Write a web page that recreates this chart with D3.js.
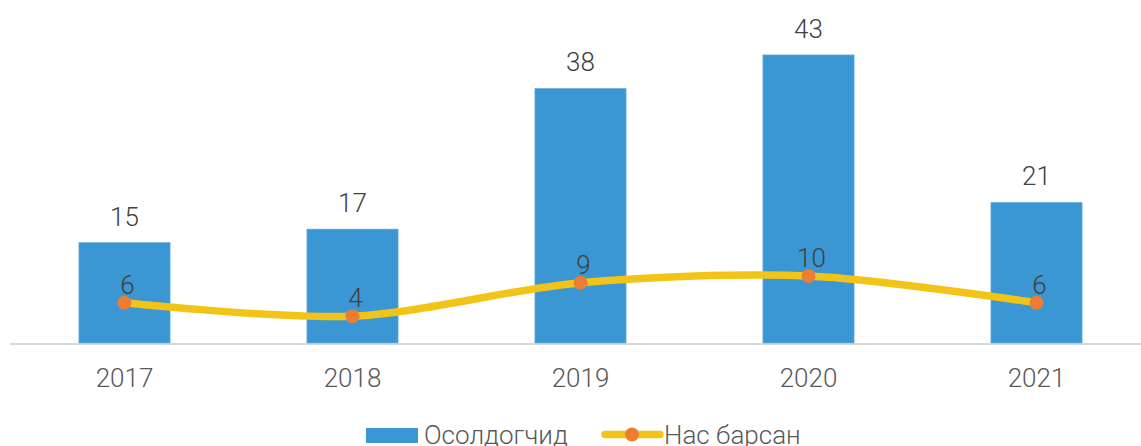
<!DOCTYPE html>
<html>
<head>
<meta charset="utf-8">
<script src="https://cdn.jsdelivr.net/npm/d3@7"></script>
<style>
  html, body { margin: 0; padding: 0; background: #fff; }
  svg { display: block; }
  text { font-family: Roboto, "Noto Sans", sans-serif; font-weight: 300; }
</style>
</head>
<body>
<svg id="chart" width="1141" height="446"></svg>
<script>
const categories = ["2017", "2018", "2019", "2020", "2021"];
const barValues = [15, 17, 38, 43, 21];      // Осолдогчид
const lineValues = [6, 4, 9, 10, 6];         // Нас барсан
const seriesNames = ["Осолдогчид", "Нас барсан"];

const W = 1141, H = 446;
const svg = d3.select("#chart");

const x = d3.scaleBand().domain(categories).range([10.5, 1150.5])
  .paddingInner(0.6).paddingOuter(0.3);
const y = d3.scaleLinear().domain([0, 50]).range([343, 8]);

const barColor = "#3b96d4";
const lineColor = "#f2c417";
const markerColor = "#ed7d31";

// baseline axis
svg.append("line")
  .attr("x1", 10).attr("x2", W)
  .attr("y1", y(0) + 1).attr("y2", y(0) + 1)
  .attr("stroke", "#d9d9d9").attr("stroke-width", 2);

// bars
svg.append("g").selectAll("rect").data(categories).join("rect")
  .attr("x", d => x(d))
  .attr("width", x.bandwidth())
  .attr("y", (d, i) => y(barValues[i]))
  .attr("height", (d, i) => y(0) - y(barValues[i]))
  .attr("fill", barColor)
  .attr("stroke", "#6fb1e0").attr("stroke-width", 0.6);

// bar labels
svg.append("g").selectAll("text").data(categories).join("text")
  .attr("x", d => x(d) + x.bandwidth() / 2)
  .attr("y", (d, i) => y(barValues[i]) - 17)
  .attr("text-anchor", "middle")
  .attr("font-size", 26)
  .attr("fill", "#404040")
  .text((d, i) => barValues[i]);

// x axis labels
svg.append("g").selectAll("text").data(categories).join("text")
  .attr("x", d => x(d) + x.bandwidth() / 2)
  .attr("y", 387)
  .attr("text-anchor", "middle")
  .attr("font-size", 26)
  .attr("fill", "#595959")
  .text(d => d);

// line
const pts = categories.map((c, i) => [x(c) + x.bandwidth() / 2, y(lineValues[i])]);
svg.append("path")
  .attr("d", d3.line().curve(d3.curveCardinal.tension(0.1))(pts))
  .attr("fill", "none")
  .attr("stroke", lineColor)
  .attr("stroke-width", 7.5)
  .attr("stroke-linecap", "round");

svg.append("g").selectAll("circle").data(pts).join("circle")
  .attr("cx", d => d[0]).attr("cy", d => d[1])
  .attr("r", 7)
  .attr("fill", markerColor);

// line labels
svg.append("g").selectAll("text").data(pts).join("text")
  .attr("x", d => d[0] + 3)
  .attr("y", d => d[1] - 9)
  .attr("text-anchor", "middle")
  .attr("font-size", 26)
  .attr("fill", "#404040")
  .text((d, i) => lineValues[i]);

// legend
const lg = svg.append("g");
lg.append("rect").attr("x", 366).attr("y", 428).attr("width", 52).attr("height", 15)
  .attr("fill", barColor);
lg.append("text").attr("x", 424).attr("y", 444).attr("font-size", 26)
  .attr("fill", "#595959").text(seriesNames[0]);
lg.append("line").attr("x1", 605).attr("x2", 660).attr("y1", 434.5).attr("y2", 434.5)
  .attr("stroke", lineColor).attr("stroke-width", 7.5).attr("stroke-linecap", "round");
lg.append("circle").attr("cx", 632).attr("cy", 434.5).attr("r", 7).attr("fill", markerColor);
lg.append("text").attr("x", 664).attr("y", 444).attr("font-size", 26)
  .attr("fill", "#595959").text(seriesNames[1]);
</script>
</body>
</html>
